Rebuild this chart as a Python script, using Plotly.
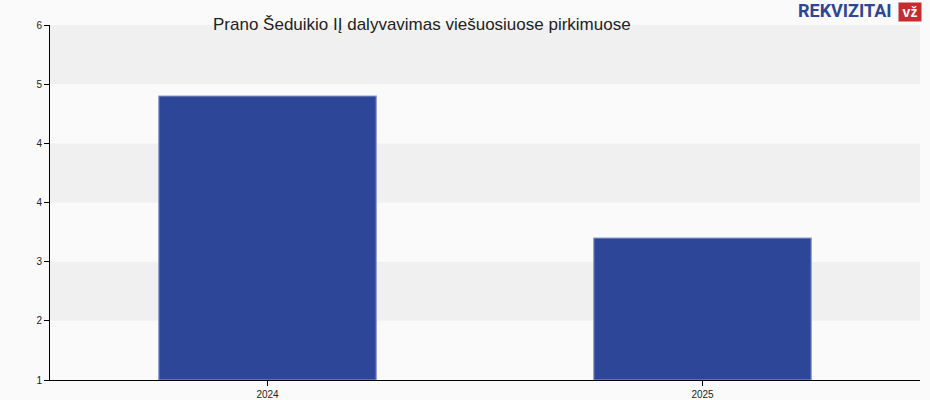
import plotly.graph_objects as go

categories = ["2024", "2025"]
values = [5, 3]
y_min, y_max = 1, 6
tick_vals = [1, 1 + 5/6, 1 + 10/6, 1 + 15/6, 1 + 20/6, 1 + 25/6, 6]
tick_text = ["1", "2", "3", "4", "4", "5", "6"]
title = "Prano Šeduikio IĮ dalyvavimas viešuosiuose pirkimuose"

L, R, T, B = 50, 10, 25, 20
PW, PH = 930 - L - R, 400 - T - B


def px_x(px):
    return (px - L) / PW


def px_y(py):
    return (400 - B - py) / PH


fig = go.Figure()
fig.add_trace(go.Bar(
    x=categories, y=[v - y_min for v in values], base=y_min,
    width=0.5,
    marker=dict(color="#2e4697", line=dict(color="#8d9bd0", width=1.2)),
    hoverinfo="skip",
))

shapes = []
for i in range(len(tick_vals) - 1):
    color = "#f0f0f0" if (len(tick_vals) - 2 - i) % 2 == 0 else "#fafafa"
    shapes.append(dict(type="rect", xref="paper", yref="y", x0=0, x1=1,
                       y0=tick_vals[i], y1=tick_vals[i + 1],
                       fillcolor=color, line=dict(width=0), layer="below"))

fig.update_layout(
    width=930, height=400,
    margin=dict(l=L, r=R, t=T, b=B, autoexpand=False),
    paper_bgcolor="#fafafa", plot_bgcolor="#fafafa",
    shapes=shapes,
    showlegend=False,
    font=dict(family="Arial, Liberation Sans, sans-serif", color="#222"),
    xaxis=dict(showline=True, linecolor="#000", linewidth=1, ticks="outside",
               ticklen=5, tickcolor="#000", tickfont=dict(size=10, color="#222"),
               showgrid=False, zeroline=False, automargin=False),
    yaxis=dict(range=[y_min, y_max], tickvals=tick_vals, ticktext=tick_text,
               showline=True, linecolor="#000", linewidth=1, ticks="outside",
               ticklen=5, tickcolor="#000", tickfont=dict(size=10, color="#222"),
               showgrid=False, zeroline=False, automargin=False),
    annotations=[
        dict(text=title, xref="paper", yref="paper", x=px_x(211), y=px_y(24),
             xanchor="left", yanchor="middle", showarrow=False,
             font=dict(size=17, color="#222")),
        dict(text="<b>REKVIZITAI</b>", xref="paper", yref="paper",
             x=px_x(894), y=px_y(10), xanchor="right", yanchor="middle",
             showarrow=False,
             font=dict(size=18, color="#2e4697",
                       family="Liberation Sans Narrow, Arial Narrow, Roboto, sans-serif")),
        dict(text="<b>vž</b>", xref="paper", yref="paper",
             x=px_x(910), y=px_y(12), xanchor="center", yanchor="middle",
             showarrow=False, bgcolor="#c62b30", width=22, height=18, borderpad=0,
             font=dict(size=14, color="#ffffff", family="Arial, sans-serif")),
    ],
)

fig.write_html("out.html", config={"displayModeBar": False, "staticPlot": True},
               post_script="document.body.style.margin='0';")
